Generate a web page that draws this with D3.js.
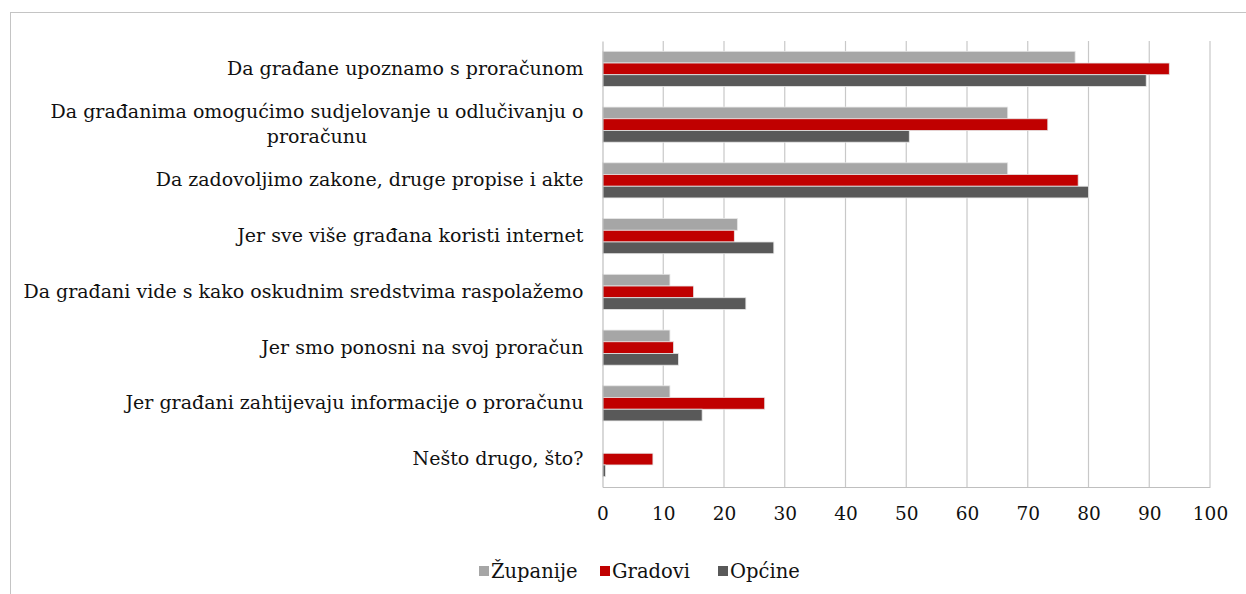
<!doctype html>
<html lang='hr'>
<head>
<meta charset="utf-8">
<script src="https://d3js.org/d3.v7.min.js"></script>
<style>
  body { margin: 0; background: #fff; }
  svg text { font-family: "DejaVu Serif", serif; fill: #111; }
</style>
</head>
<body>
<div id='chart'></div>
<script>
const categories = [
  'Da građane upoznamo s proračunom',
  'Da građanima omogućimo sudjelovanje u odlučivanju o proračunu',
  'Da zadovoljimo zakone, druge propise i akte',
  'Jer sve više građana koristi internet',
  'Da građani vide s kako oskudnim sredstvima raspolažemo',
  'Jer smo ponosni na svoj proračun',
  'Jer građani zahtijevaju informacije o proračunu',
  'Nešto drugo, što?'
];
const seriesNames = ['Županije', 'Gradovi', 'Općine'];
const zupanije = [77.8, 66.7, 66.7, 22.2, 11.1, 11.1, 11.1, 0];
const gradovi  = [93.3, 73.3, 78.3, 21.7, 15.0, 11.7, 26.7, 8.3];
const opcine   = [89.5, 50.5, 80.0, 28.2, 23.6, 12.5, 16.4, 0.5];
const xTicks = [0, 10, 20, 30, 40, 50, 60, 70, 80, 90, 100];
const colors = ['#a6a6a6', '#c00000', '#595959'];

const W = 1246, H = 594;
const m = {left: 602.5, right: 36, top: 41, bottom: 107};
const labelSize = 19;

const svg = d3.select('#chart').append('svg')
  .attr('width', W).attr('height', H);

// outer chart border
svg.append('rect')
  .attr('x', 10.5).attr('y', 12.5)
  .attr('width', W + 10).attr('height', H + 10)
  .attr('fill', 'none').attr('stroke', '#c4c4c4');

const x = d3.scaleLinear().domain([0, 100]).range([m.left, W - m.right]);
const y = d3.scaleBand().domain(categories).range([m.top, H - m.bottom])
  .paddingInner(0.37).paddingOuter(0.185);
const ySub = d3.scaleBand().domain(seriesNames).range([0, y.bandwidth()]);

// grid
svg.append('g').selectAll('line')
  .data(xTicks.slice(1))
  .join('line')
  .attr('x1', d => x(d)).attr('x2', d => x(d))
  .attr('y1', m.top).attr('y2', H - m.bottom)
  .attr('stroke', '#c8c8c8').attr('stroke-width', 1.2);

// bars
const rows = categories.map((c, i) => ({
  cat: c, vals: [zupanije[i], gradovi[i], opcine[i]]
}));
const grp = svg.append('g').selectAll('g')
  .data(rows).join('g')
  .attr('transform', d => `translate(0,${y(d.cat)})`);
grp.selectAll('rect')
  .data(d => d.vals.map((v, j) => ({v, s: seriesNames[j], j})))
  .join('rect')
  .attr('x', x(0))
  .attr('y', d => ySub(d.s))
  .attr('width', d => x(d.v) - x(0))
  .attr('height', ySub.bandwidth())
  .attr('fill', d => colors[d.j])
  .attr('stroke', d => d.v > 0 ? '#e6e6e6' : 'none')
  .attr('stroke-width', 0.8);

// x axis
const xAxis = d3.axisBottom(x).tickValues(xTicks).tickSize(0).tickPadding(20);
const gx = svg.append('g')
  .attr('transform', `translate(0,${H - m.bottom})`)
  .call(xAxis);
gx.select('.domain').attr('stroke', '#bfbfbf').attr('stroke-width', 1.2);
gx.selectAll('text').attr('font-size', 18.5).attr('font-family', '"DejaVu Serif", serif').attr('fill', '#111');

// y axis
const yAxis = d3.axisLeft(y).tickSize(0).tickPadding(19);
const gy = svg.append('g')
  .attr('transform', `translate(${m.left},0)`)
  .call(yAxis);
gy.select('.domain').attr('stroke', '#bfbfbf').attr('stroke-width', 1.2);
gy.selectAll('text')
  .attr('font-size', labelSize).attr('font-family', '"DejaVu Serif", serif').attr('fill', '#111')
  .each(function(d) {
    const t = d3.select(this);
    const maxW = 578;
    const words = d.split(' ');
    t.text(d);
    if (this.getComputedTextLength() <= maxW) return;
    const lines = [];
    let line = [];
    t.text('');
    const probe = t.append('tspan');
    words.forEach(w => {
      line.push(w);
      probe.text(line.join(' '));
      if (probe.node().getComputedTextLength() > maxW && line.length > 1) {
        line.pop();
        lines.push(line.join(' '));
        line = [w];
      }
    });
    lines.push(line.join(' '));
    probe.remove();
    const lh = 25.5;
    const xx = t.attr('x');
    // first line right-aligned, later lines centred under it
    t.text(lines[0]);
    const w0 = this.getComputedTextLength();
    t.text('');
    lines.forEach((ln, k) => {
      t.append('tspan')
        .attr('x', k === 0 ? xx : +xx - w0 / 2)
        .attr('text-anchor', k === 0 ? 'end' : 'middle')
        .attr('dy', k === 0 ? `${-(lines.length - 1) * lh / 2 / labelSize + 0.32}em` : lh)
        .text(ln);
    });
    t.attr('dy', null);
  });

// legend
const legend = svg.append('g').attr('transform', 'translate(479,571)');
const items = [
  {name: seriesNames[0], x: 0},
  {name: seriesNames[1], x: 121},
  {name: seriesNames[2], x: 239}
];
const li = legend.selectAll('g').data(items).join('g')
  .attr('transform', d => `translate(${d.x},0)`);
li.append('rect')
  .attr('x', 0).attr('y', -5).attr('width', 10).attr('height', 10)
  .attr('fill', (d, i) => colors[i]);
li.append('text')
  .attr('x', 12).attr('y', 0).attr('dy', '0.35em')
  .attr('font-size', 19.5)
  .text(d => d.name);
</script>
</body>
</html>
